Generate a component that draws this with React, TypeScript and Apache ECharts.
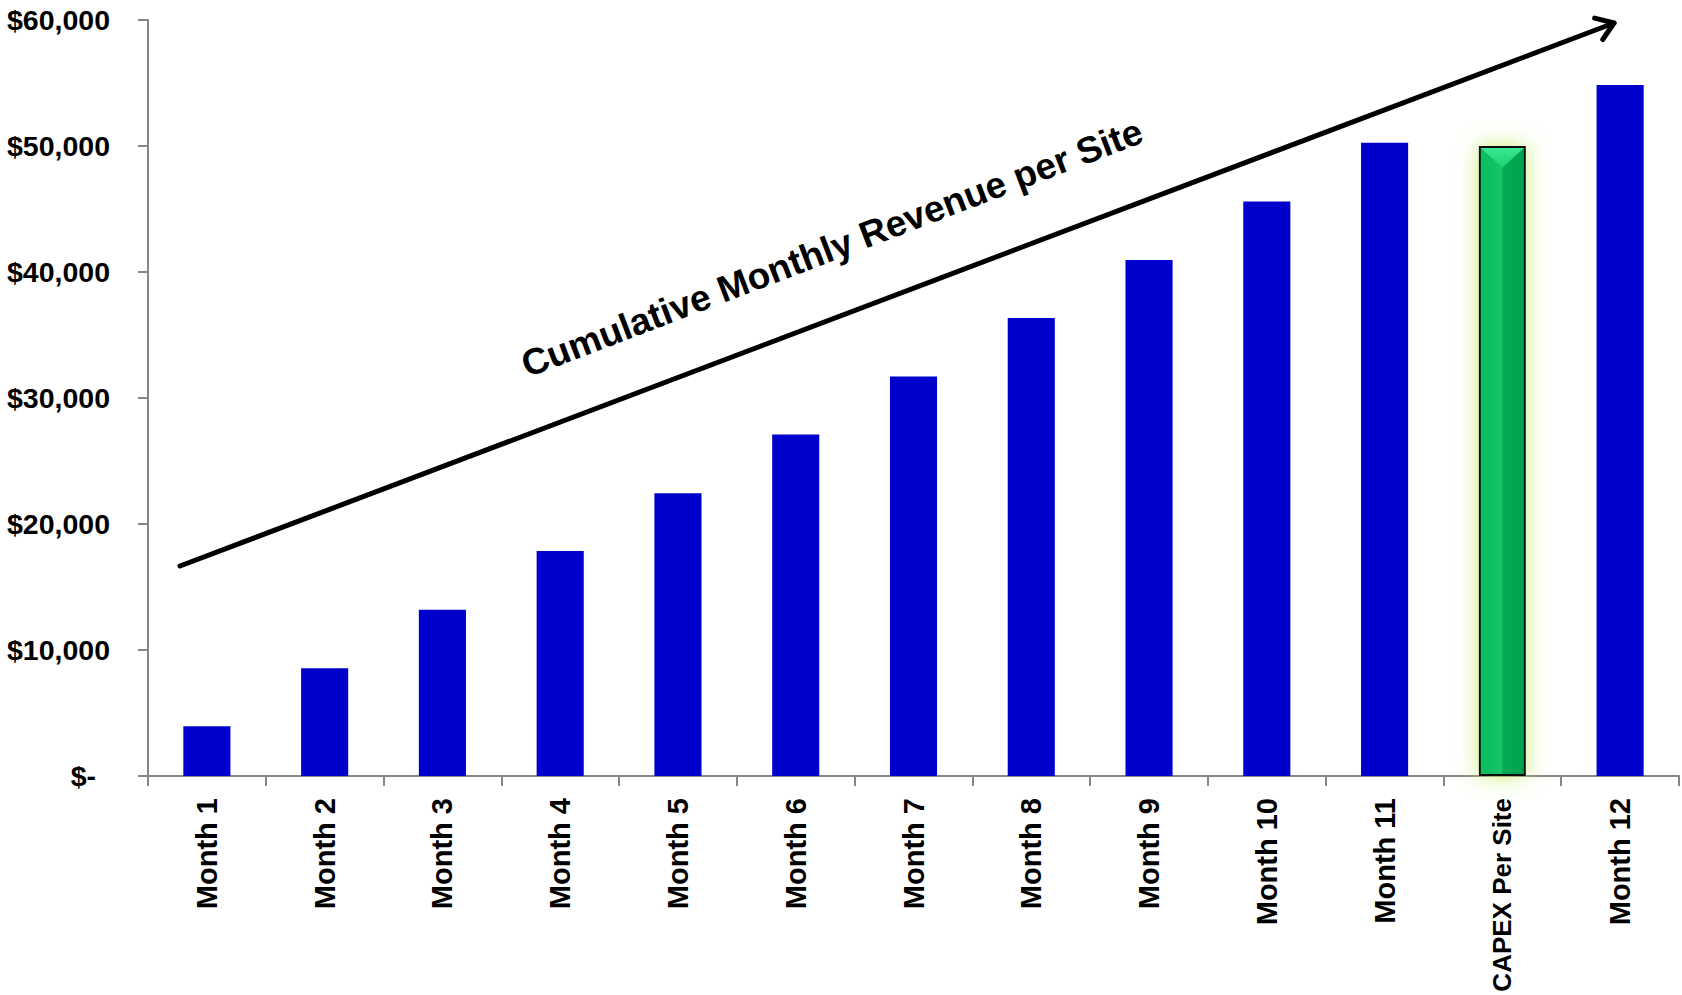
import React, { useEffect, useRef } from "react";
import * as echarts from "echarts";

const categories = [
  "Month 1", "Month 2", "Month 3", "Month 4", "Month 5", "Month 6", "Month 7",
  "Month 8", "Month 9", "Month 10", "Month 11", "CAPEX Per Site", "Month 12",
];
const values = [3950, 8550, 13200, 17850, 22450, 27100, 31700, 36350, 40950, 45600, 50250, 50000, 54850];
const highlightCategory = "CAPEX Per Site";
const annotationText = "Cumulative Monthly Revenue per Site";
const yMax = 60000;
const yInterval = 10000;

function formatDollar(v: number): string {
  if (v === 0) return "{z|$-}";
  return "$" + v.toLocaleString("en-US");
}

export default function App() {
  const ref = useRef<HTMLDivElement>(null);
  useEffect(() => {
    if (!ref.current) return;
    const chart = echarts.init(ref.current, null, { renderer: "svg" });

    // arrow annotation geometry (pixels)
    const x1 = 180, y1 = 566, x2 = 1614, y2 = 23;
    const ang = Math.atan2(y1 - y2, x1 - x2);
    const armLen = 20;
    const spread = (35 * Math.PI) / 180;
    const a1 = [x2 + armLen * Math.cos(ang + spread), y2 + armLen * Math.sin(ang + spread)];
    const a2 = [x2 + armLen * Math.cos(ang - spread), y2 + armLen * Math.sin(ang - spread)];

    const hi = categories.indexOf(highlightCategory);

    const data = categories.map((c, i) => {
      if (c === highlightCategory) {
        return {
          value: values[i],
          itemStyle: {
            color: new echarts.graphic.LinearGradient(0, 0, 1, 0, [
              { offset: 0, color: "#0cbc5c" },
              { offset: 0.48, color: "#14c468" },
              { offset: 0.52, color: "#04ac55" },
              { offset: 1, color: "#00a24e" },
            ]),
            borderColor: "#111111",
            borderWidth: 2,
            shadowBlur: 22,
            shadowColor: "rgba(200, 238, 110, 0.95)",
          },
        };
      }
      return { value: values[i] };
    });

    const xData = categories.map((c) =>
      c === highlightCategory
        ? { value: c, textStyle: { fontSize: 26, fontWeight: "bold", color: "#000000" } }
        : c
    );

    chart.setOption({
      animation: false,
      backgroundColor: "#ffffff",
      grid: { left: 148, right: 3, top: 20, bottom: 219, containLabel: false },
      xAxis: {
        type: "category",
        data: xData,
        axisLine: { show: true, lineStyle: { color: "#868686", width: 2 } },
        axisTick: { show: true, length: 10, lineStyle: { color: "#868686", width: 2 } },
        axisLabel: {
          interval: 0,
          rotate: 90,
          margin: 22,
          color: "#000000",
          fontFamily: "Liberation Sans",
          fontWeight: "bold",
          fontSize: 29,
        },
      },
      yAxis: {
        type: "value",
        min: 0,
        max: yMax,
        interval: yInterval,
        splitLine: { show: false },
        axisLine: { show: true, lineStyle: { color: "#868686", width: 2 } },
        axisTick: { show: true, length: 10, lineStyle: { color: "#868686", width: 2 } },
        axisLabel: {
          margin: 38,
          color: "#000000",
          fontFamily: "Liberation Sans",
          fontWeight: "bold",
          fontSize: 28.5,
          formatter: formatDollar,
          rich: {
            z: {
              color: "#000000",
              fontFamily: "Liberation Sans",
              fontWeight: "bold",
              fontSize: 28.5,
              padding: [0, 14, 0, 0],
            },
          },
        },
      },
      series: [
        {
          type: "bar",
          data,
          barWidth: "40%",
          itemStyle: { color: "#0000CC" },
        },
        {
          type: "custom",
          data: [[hi, values[hi]]],
          z: 5,
          silent: true,
          renderItem: (params: any, api: any) => {
            const top = api.coord([api.value(0), api.value(1)]);
            const bw = api.size([1, 0])[0] * 0.4;
            const l = top[0] - bw / 2 + 2;
            const r = top[0] + bw / 2 - 2;
            const t = top[1] + 2;
            return {
              type: "polygon",
              shape: { points: [[l, t], [r, t], [top[0], t + bw * 0.42]] },
              style: {
                fill: new echarts.graphic.LinearGradient(0, 0, 0, 1, [
                  { offset: 0, color: "#3be894" },
                  { offset: 1, color: "#1ccf72" },
                ]),
              },
            };
          },
        },
      ],
      graphic: [
        {
          type: "line",
          shape: { x1, y1, x2, y2 },
          style: { stroke: "#000000", lineWidth: 5, lineCap: "round" },
          z: 100,
        },
        {
          type: "polyline",
          shape: { points: [a1, [x2, y2], a2] },
          style: { stroke: "#000000", lineWidth: 5, fill: null, lineCap: "round", lineJoin: "round" },
          z: 100,
        },
        {
          type: "text",
          x: 832,
          y: 248,
          rotation: 0.365,
          style: {
            text: annotationText,
            fill: "#000000",
            font: "bold 37px 'Liberation Sans', Arial, sans-serif",
            align: "center",
            verticalAlign: "middle",
          },
          z: 100,
        },
      ],
    });
    return () => chart.dispose();
  }, []);

  return (
    <div
      ref={ref}
      style={{ position: "absolute", left: 0, top: 0, width: 1682, height: 995 }}
    />
  );
}
